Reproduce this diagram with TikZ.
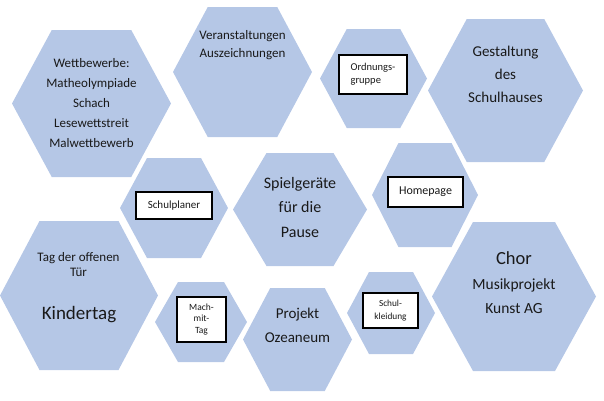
\documentclass[tikz,border=0pt]{standalone}
\usepackage{fontspec}
\setmainfont{Carlito}
\usetikzlibrary{calc}
\definecolor{HexBlue}{RGB}{181,199,230}
\def\HexBlue{HexBlue}
\def\HexText{black!90}
\def\pp{path picture bounding box}

\begin{document}
\begin{tikzpicture}
    [x=1pt,y=-1pt,
    hexa/.style 2 args={rectangle,inner sep=0pt,minimum width=#1pt,minimum height=#2pt,
      path picture={\fill[\HexBlue] (\pp.west)
        -- ($(\pp.north west)!.25!(\pp.north east)$) -- ($(\pp.north west)!.75!(\pp.north east)$)
        -- (\pp.east)
        -- ($(\pp.south west)!.75!(\pp.south east)$) -- ($(\pp.south west)!.25!(\pp.south east)$)
        -- cycle;}},
    txt/.style={align=center,text=\HexText,inner sep=0pt},
    tag/.style={rectangle,draw=black,line width=1.1pt,fill=white,text=\HexText,align=center,inner sep=0pt},
    ]
    \useasboundingbox (0,0) rectangle (604,400);
    % the hexagons
    \node[hexa={159}{147}] (wett) at (91.5,103.5) {};
    \node[hexa={139}{130}] (veran) at (242.5,72) {};
    \node[hexa={107}{99}] (ordn) at (373.5,78.5) {};
    \node[hexa={155}{143}] (gest) at (505.5,90.5) {};
    \node[hexa={108}{100}] (splan) at (174,208) {};
    \node[hexa={134}{113}] (spiel) at (300,209.5) {};
    \node[hexa={106}{104}] (home) at (425,195) {};
    \node[hexa={158}{149}] (kind) at (79,295.5) {};
    \node[hexa={92}{80}] (mach) at (201,322) {};
    \node[hexa={109}{103}] (ozean) at (297.5,339.5) {};
    \node[hexa={88}{82}] (skleid) at (391,313) {};
    \node[hexa={164}{149}] (chor) at (514,296.5) {};
    % the texts
    \node[txt,font=\fontsize{13}{20}\selectfont] (wetttxt) at (91.5,103)
      {Wettbewerbe:\\Matheolympiade\\Schach\\Lesewettstreit\\Malwettbewerb};
    \node[txt,font=\fontsize{13}{18}\selectfont] (verantxt) at (242.5,45)
      {Veranstaltungen\\Auszeichnungen};
    \node[txt,font=\fontsize{15}{23}\selectfont] (gesttxt) at (505.5,74)
      {Gestaltung\\des\\Schulhauses};
    \node[txt,font=\fontsize{16}{24.5}\selectfont] (spieltxt) at (300,207)
      {Spielgeräte\\für die\\Pause};
    \node[txt,font=\fontsize{13}{15}\selectfont] (offentxt) at (78.5,264.5)
      {Tag der offenen\\Tür};
    \node[txt,font=\fontsize{19}{22}\selectfont] (kindtxt) at (79,315) {Kindertag};
    \node[txt,font=\fontsize{15}{24}\selectfont] (ozeantxt) at (297.5,325)
      {Projekt\\Ozeaneum};
    \node[txt,font=\fontsize{18.5}{22}\selectfont] (chortxt) at (514,258) {Chor};
    \node[txt,font=\fontsize{15.5}{24}\selectfont] (kunsttxt) at (514,296)
      {Musikprojekt\\Kunst AG};
    % the white boxes
    \node[tag,minimum width=68pt,minimum height=39pt,align=left,
      font=\fontsize{10.5}{13}\selectfont] (ordntag) at (373,74.5) {Ordnungs-\\gruppe};
    \node[tag,minimum width=76pt,minimum height=27pt,
      font=\fontsize{11}{13}\selectfont] (splantag) at (174,205.5) {Schulplaner};
    \node[tag,minimum width=75pt,minimum height=30pt,
      font=\fontsize{12}{14}\selectfont] (hometag) at (425.5,192) {Homepage};
    \node[tag,minimum width=49pt,minimum height=45pt,
      font=\fontsize{9.5}{11.5}\selectfont] (machtag) at (201.5,319.5) {Mach-\\mit-\\Tag};
    \node[tag,minimum width=55pt,minimum height=35pt,
      font=\fontsize{9.3}{13}\selectfont] (skleidtag) at (390.5,310.5) {Schul-\\kleidung};
  \end{tikzpicture}
\end{document}
